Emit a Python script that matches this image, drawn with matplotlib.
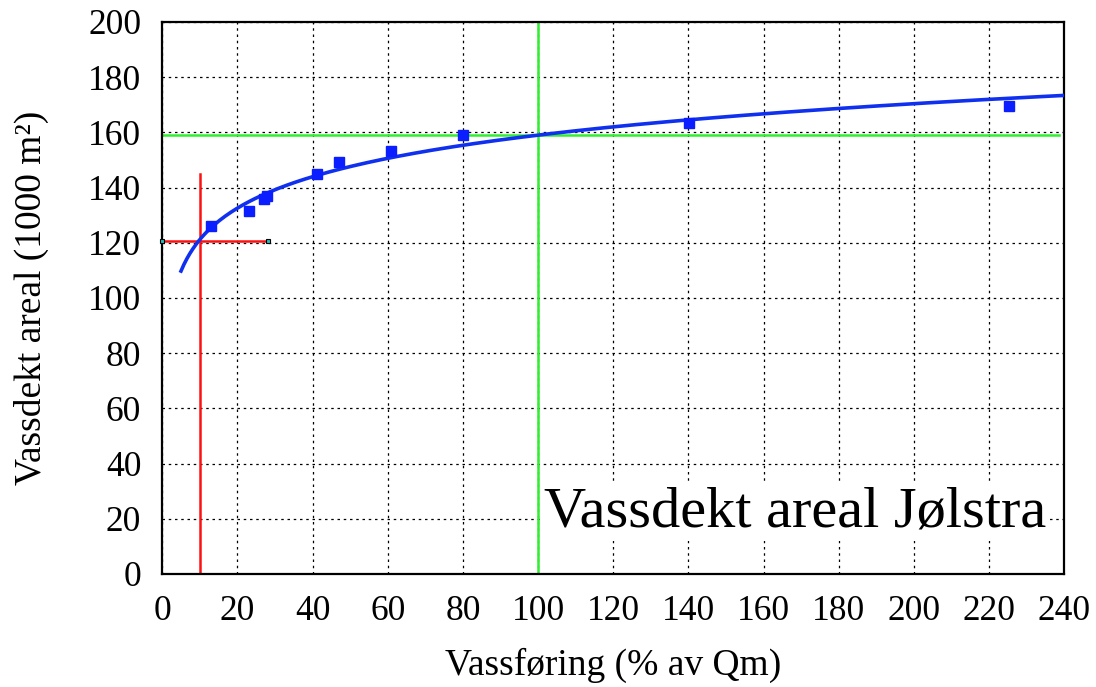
import numpy as np
import matplotlib
matplotlib.use("Agg")
import matplotlib.pyplot as plt

# Measured points (flow % of Qm, water-covered area 1000 m2)
flow = [13.0, 23.2, 27.0, 28.0, 41.2, 47.1, 60.9, 80.1, 140.2, 225.4]
area = [126.1, 131.5, 136.0, 137.0, 144.9, 149.3, 153.3, 159.1, 163.4, 169.6]

# Reference markers
low_flow = 10
low_area = 120.5
low_vline_top = 145
low_hline_end = 28.2
mean_flow = 100
mean_area = 159
mean_hline_end = 238.5

curve_start, curve_end = 5, 240

x_ticks = list(range(0, 241, 20))
y_ticks = list(range(0, 201, 20))

plt.rcParams['font.family'] = ['Liberation Serif', 'DejaVu Serif']

fig = plt.figure(figsize=(10.96, 6.87), dpi=100)
ax = fig.add_axes([0.148, 0.1645, 0.823, 0.8035])

# Logarithmic trend line fitted to the data
b, a = np.polyfit(np.log(flow), area, 1)
xc = np.linspace(curve_start, curve_end, 300)
yc = a + b * np.log(xc)

ax.set_xlim(0, 240)
ax.set_ylim(0, 200)
ax.set_xticks(x_ticks)
ax.set_yticks(y_ticks)
ax.tick_params(axis='both', length=0, labelsize=25.5)
ax.tick_params(axis='y', pad=15)
ax.tick_params(axis='x', pad=15)
ax.grid(True, color='black', linestyle=(0, (2, 3)), linewidth=0.9)
ax.set_axisbelow(True)
for s in ax.spines.values():
    s.set_linewidth(1.6)

# green lines (mean flow)
ax.plot([mean_flow, mean_flow], [0, 200], color='#30ee30', lw=1.8, zorder=2)
ax.plot([0, mean_hline_end], [mean_area, mean_area], color='#30ee30', lw=1.8, zorder=2)

# red lines (low flow)
ax.plot([low_flow, low_flow], [0, low_vline_top], color='#ff1010', lw=1.8, zorder=2)
ax.plot([0, low_hline_end], [low_area, low_area], color='#ff1010', lw=1.8, zorder=2)
ax.plot([0, low_hline_end], [low_area, low_area], linestyle='none', marker='s',
        markersize=3.5, markerfacecolor='#20c0c0', markeredgecolor='black',
        markeredgewidth=0.8, zorder=4, clip_on=False)

ax.plot(xc, yc, color='#1030f0', lw=2.6, zorder=3)
ax.plot(flow, area, linestyle='none', marker='s', markersize=6.5,
        color='#0a1eff', zorder=4)

ax.text(0.702, 0.112, 'Vassdekt areal Jølstra', transform=ax.transAxes,
        fontsize=42, ha='center', va='center', zorder=5,
        bbox=dict(facecolor='white', edgecolor='none', pad=2))

ax.set_xlabel('Vassføring (% av Qm)', fontsize=27, labelpad=14)
ax.set_ylabel('Vassdekt areal (1000 m²)', fontsize=27, labelpad=28)

fig.savefig('out.png', dpi=100)
